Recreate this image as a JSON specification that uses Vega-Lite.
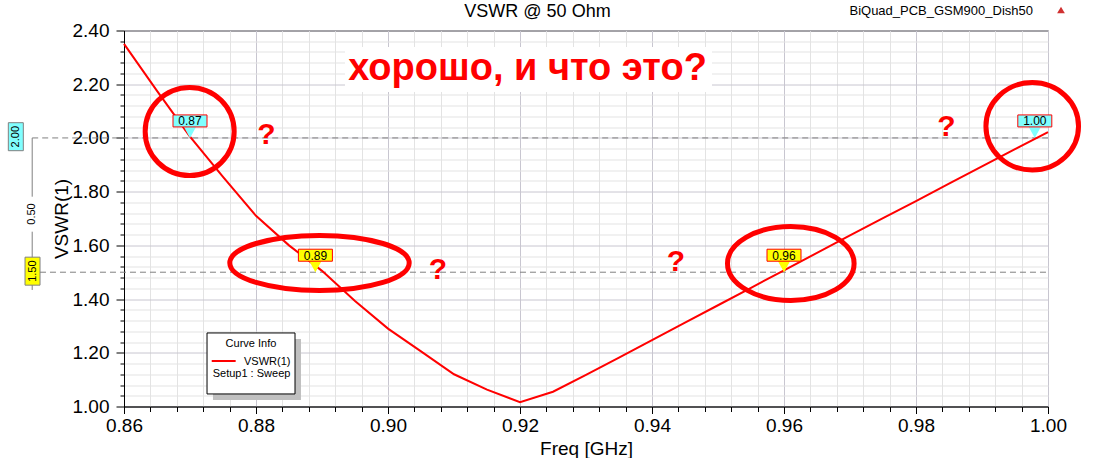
{
  "$schema": "https://vega.github.io/schema/vega-lite/v6.json",
  "width": 924,
  "height": 376,
  "autosize": "none",
  "padding": {"left": 124, "top": 30.5, "right": 54, "bottom": 51.5},
  "background": "#ffffff",
  "config": {
    "font": "Liberation Sans",
    "view": {"stroke": "#000000", "strokeWidth": 1}
  },
  "datasets": {
    "curve": [
      {"freq": 0.860, "vswr": 2.350},
      {"freq": 0.865, "vswr": 2.175},
      {"freq": 0.870, "vswr": 2.005},
      {"freq": 0.875, "vswr": 1.855},
      {"freq": 0.880, "vswr": 1.710},
      {"freq": 0.885, "vswr": 1.600},
      {"freq": 0.890, "vswr": 1.505},
      {"freq": 0.895, "vswr": 1.393},
      {"freq": 0.900, "vswr": 1.290},
      {"freq": 0.905, "vswr": 1.205},
      {"freq": 0.910, "vswr": 1.120},
      {"freq": 0.915, "vswr": 1.063},
      {"freq": 0.920, "vswr": 1.016},
      {"freq": 0.925, "vswr": 1.055},
      {"freq": 0.930, "vswr": 1.118},
      {"freq": 0.935, "vswr": 1.182},
      {"freq": 0.940, "vswr": 1.247},
      {"freq": 0.945, "vswr": 1.312},
      {"freq": 0.950, "vswr": 1.377},
      {"freq": 0.955, "vswr": 1.442},
      {"freq": 0.960, "vswr": 1.507},
      {"freq": 0.965, "vswr": 1.572},
      {"freq": 0.970, "vswr": 1.637},
      {"freq": 0.975, "vswr": 1.701},
      {"freq": 0.980, "vswr": 1.765},
      {"freq": 0.985, "vswr": 1.830},
      {"freq": 0.990, "vswr": 1.894},
      {"freq": 0.995, "vswr": 1.958},
      {"freq": 1.000, "vswr": 2.022}
    ],
    "markers": [
      {"freq": 0.870, "vswr": 2.0, "label": "0.87", "kind": "cyan"},
      {"freq": 0.889, "vswr": 1.5, "label": "0.89", "kind": "yellow"},
      {"freq": 0.960, "vswr": 1.5, "label": "0.96", "kind": "yellow"},
      {"freq": 0.998, "vswr": 2.0, "label": "1.00", "kind": "cyan"}
    ],
    "refs": [
      {"freq": 0.84609, "freq2": 1.0, "vswr": 2.0},
      {"freq": 0.84727, "freq2": 1.0, "vswr": 1.5}
    ],
    "deltaLine": [
      {"freq": 0.84609, "vswr": 2.0, "vswr2": 1.7812},
      {"freq": 0.84609, "vswr": 1.6509, "vswr2": 1.434}
    ],
    "deltaText": [
      {"freq": 0.84609, "vswr": 1.7168, "label": "0.50"}
    ],
    "yMarkers": [
      {"freq": 0.84361, "vswr": 2.0046, "label": "2.00", "kind": "cyan"},
      {"freq": 0.84614, "vswr": 1.5039, "label": "1.50", "kind": "yellow"}
    ],
    "rings": [
      {"id": "a", "freq": 0.86995, "vswr": 2.0240},
      {"id": "b", "freq": 0.88962, "vswr": 1.5344},
      {"id": "c", "freq": 0.96103, "vswr": 1.5325},
      {"id": "d", "freq": 0.99761, "vswr": 2.0433}
    ],
    "questions": [
      {"freq": 0.88159, "vswr": 1.9763, "label": "?"},
      {"freq": 0.90758, "vswr": 1.4737, "label": "?"},
      {"freq": 0.94364, "vswr": 1.5046, "label": "?"},
      {"freq": 0.98462, "vswr": 2.0072, "label": "?"}
    ],
    "bigTextBox": [
      {"freq": 0.89348, "freq2": 0.94909, "vswr": 2.3386, "vswr2": 2.1710}
    ],
    "bigText": [
      {"freq": 0.92114, "vswr": 2.2157, "label": "хорошо, и что это?"}
    ],
    "legendShadow": [
      {"freq": 0.87348, "freq2": 0.88682, "vswr": 1.2514, "vswr2": 1.0243}
    ],
    "legendBox": [
      {"freq": 0.87258, "freq2": 0.88591, "vswr": 1.2738, "vswr2": 1.0467}
    ],
    "legendLine": [
      {"freq": 0.87329, "freq2": 0.87692, "vswr": 1.1695}
    ],
    "legendTitle": [
      {"freq": 0.87924, "vswr": 1.2206, "label": "Curve Info"}
    ],
    "legendLabels": [
      {"freq": 0.87818, "vswr": 1.1547, "label": "VSWR(1)"},
      {"freq": 0.87344, "vswr": 1.1111, "label": "Setup1 : Sweep"}
    ],
    "chartTitle": [
      {"freq": 0.92265, "vswr": 2.4503, "label": "VSWR @ 50 Ohm"}
    ],
    "projectName": [
      {"freq": 0.99773, "vswr": 2.4577, "label": "BiQuad_PCB_GSM900_Dish50"}
    ],
    "icon": [
      {"freq": 1.00197, "vswr": 2.4763}
    ]
  },
  "encoding": {
    "x": {
      "field": "freq",
      "type": "quantitative",
      "scale": {"domain": [0.86, 1.0], "nice": false, "zero": false},
      "axis": {
        "orient": "bottom",
        "values": [0.86,0.864,0.868,0.872,0.876,0.88,0.884,0.888,0.892,0.896,0.9,0.904,0.908,0.912,0.916,0.92,0.924,0.928,0.932,0.936,0.94,0.944,0.948,0.952,0.956,0.96,0.964,0.968,0.972,0.976,0.98,0.984,0.988,0.992,0.996,1],
        "grid": true,
        "gridColor": {"condition": {"test": "abs(datum.value*50 - round(datum.value*50)) < 0.01", "value": "#c8c6d0"}, "value": "#e3e3e3"},
        "gridWidth": 1,
        "domainColor": "#000000",
        "tickColor": "#000000",
        "tickSize": {"condition": {"test": "abs(datum.value*50 - round(datum.value*50)) < 0.01", "value": 7}, "value": 5},
        "labelExpr": "abs(datum.value*50 - round(datum.value*50)) < 0.01 ? format(datum.value, '.2f') : ''",
        "labelFontSize": 19,
        "labelColor": "#000000",
        "labelPadding": 3,
        "labelFlush": false,
        "labelOverlap": false,
        "title": "Freq [GHz]",
        "titleFontSize": 19,
        "titleFontWeight": "normal",
        "titleColor": "#000000",
        "titlePadding": 4
      }
    },
    "y": {
      "field": "vswr",
      "type": "quantitative",
      "scale": {"domain": [1.0, 2.4], "nice": false, "zero": false},
      "axis": {
        "orient": "left",
        "values": [1,1.04,1.08,1.12,1.16,1.2,1.24,1.28,1.32,1.36,1.4,1.44,1.48,1.52,1.56,1.6,1.64,1.68,1.72,1.76,1.8,1.84,1.88,1.92,1.96,2,2.04,2.08,2.12,2.16,2.2,2.24,2.28,2.32,2.36,2.4],
        "grid": true,
        "gridColor": {"condition": {"test": "abs(datum.value*5 - round(datum.value*5)) < 0.01", "value": "#c8c6d0"}, "value": "#e3e3e3"},
        "gridWidth": 1,
        "domainColor": "#000000",
        "tickColor": "#000000",
        "tickSize": {"condition": {"test": "abs(datum.value*5 - round(datum.value*5)) < 0.01", "value": 8}, "value": 4},
        "labelExpr": "abs(datum.value*5 - round(datum.value*5)) < 0.01 ? format(datum.value, '.2f') : ''",
        "labelFontSize": 19,
        "labelColor": "#000000",
        "labelPadding": 7,
        "labelOverlap": false,
        "title": "VSWR(1)",
        "titleFontSize": 19,
        "titleFontWeight": "normal",
        "titleColor": "#000000",
        "titlePadding": 1
      }
    }
  },
  "layer": [
    {
      "data": {"name": "bigTextBox"},
      "mark": {"type": "rect", "color": "#ffffff"},
      "encoding": {"x2": {"field": "freq2"}, "y2": {"field": "vswr2"}}
    },
    {
      "data": {"name": "refs"},
      "mark": {"type": "rule", "color": "#808080", "strokeWidth": 1, "strokeDash": [6, 4]},
      "encoding": {"x2": {"field": "freq2"}}
    },
    {
      "data": {"name": "deltaLine"},
      "mark": {"type": "rule", "color": "#808080", "strokeWidth": 1},
      "encoding": {"y2": {"field": "vswr2"}}
    },
    {
      "data": {"name": "deltaText"},
      "mark": {"type": "text", "angle": 270, "align": "center", "baseline": "middle", "fontSize": 11, "color": "#000000"},
      "encoding": {"text": {"field": "label"}}
    },
    {
      "data": {"name": "yMarkers"},
      "mark": {"type": "point", "shape": "M-7.5,-14H7.5V14H-7.5Z", "size": 4, "filled": true, "opacity": 1, "stroke": "#808080", "strokeWidth": 1},
      "encoding": {
        "fill": {"field": "kind", "type": "nominal", "scale": {"domain": ["cyan", "yellow"], "range": ["#80ffff", "#ffff00"]}, "legend": null}
      }
    },
    {
      "data": {"name": "yMarkers"},
      "mark": {"type": "text", "angle": 270, "align": "center", "baseline": "middle", "fontSize": 11, "color": "#000000"},
      "encoding": {"text": {"field": "label"}}
    },
    {
      "data": {"name": "legendShadow"},
      "mark": {"type": "rect", "color": "#c0c0c0"},
      "encoding": {"x2": {"field": "freq2"}, "y2": {"field": "vswr2"}}
    },
    {
      "data": {"name": "legendBox"},
      "mark": {"type": "rect", "fill": "#ffffff", "stroke": "#000000", "strokeWidth": 1},
      "encoding": {"x2": {"field": "freq2"}, "y2": {"field": "vswr2"}}
    },
    {
      "data": {"name": "legendLine"},
      "mark": {"type": "rule", "color": "#ff0000", "strokeWidth": 2},
      "encoding": {"x2": {"field": "freq2"}}
    },
    {
      "data": {"name": "legendTitle"},
      "mark": {"type": "text", "align": "center", "baseline": "alphabetic", "fontSize": 11, "color": "#000000"},
      "encoding": {"text": {"field": "label"}}
    },
    {
      "data": {"name": "legendLabels"},
      "mark": {"type": "text", "align": "left", "baseline": "alphabetic", "fontSize": 11, "color": "#000000"},
      "encoding": {"text": {"field": "label"}}
    },
    {
      "data": {"name": "curve"},
      "mark": {"type": "line", "color": "#ff0000", "strokeWidth": 2}
    },
    {
      "data": {"name": "markers"},
      "mark": {"type": "point", "shape": "M-17,-23H17V-11H6L0,0L-6,-11H-17Z", "size": 4, "filled": true, "opacity": 1, "strokeWidth": 0},
      "encoding": {
        "fill": {"field": "kind", "type": "nominal", "scale": {"domain": ["cyan", "yellow"], "range": ["#80ffff", "#ffff00"]}, "legend": null}
      }
    },
    {
      "data": {"name": "markers"},
      "mark": {"type": "point", "shape": "M-17,-23H17V-11H-17Z", "size": 4, "filled": false, "opacity": 1, "stroke": "#ff0000", "strokeWidth": 1}
    },
    {
      "data": {"name": "markers"},
      "mark": {"type": "text", "align": "center", "baseline": "alphabetic", "dy": -12.5, "fontSize": 12, "color": "#000000"},
      "encoding": {"text": {"field": "label"}}
    },
    {
      "data": {"name": "rings"},
      "transform": [{"filter": "datum.id == 'a'"}],
      "mark": {"type": "point", "shape": "M-1,0A1,0.99,0,1,0,1,0A1,0.99,0,1,0,-1,0Z", "size": 7921, "filled": false, "opacity": 1, "stroke": "#ff0000", "strokeWidth": 5}
    },
    {
      "data": {"name": "rings"},
      "transform": [{"filter": "datum.id == 'b'"}],
      "mark": {"type": "point", "shape": "M-1,0A1,0.307,0,1,0,1,0A1,0.307,0,1,0,-1,0Z", "size": 32184, "filled": false, "opacity": 1, "stroke": "#ff0000", "strokeWidth": 5}
    },
    {
      "data": {"name": "rings"},
      "transform": [{"filter": "datum.id == 'c'"}],
      "mark": {"type": "point", "shape": "M-1,0A1,0.585,0,1,0,1,0A1,0.585,0,1,0,-1,0Z", "size": 16028, "filled": false, "opacity": 1, "stroke": "#ff0000", "strokeWidth": 5}
    },
    {
      "data": {"name": "rings"},
      "transform": [{"filter": "datum.id == 'd'"}],
      "mark": {"type": "point", "shape": "M-1,0A1,0.946,0,1,0,1,0A1,0.946,0,1,0,-1,0Z", "size": 8575, "filled": false, "opacity": 1, "stroke": "#ff0000", "strokeWidth": 5}
    },
    {
      "data": {"name": "questions"},
      "mark": {"type": "text", "align": "center", "baseline": "alphabetic", "fontSize": 30, "fontWeight": "bold", "color": "#ff0000"},
      "encoding": {"text": {"field": "label"}}
    },
    {
      "data": {"name": "bigText"},
      "mark": {"type": "text", "align": "center", "baseline": "alphabetic", "fontSize": 38, "fontWeight": "bold", "color": "#ff0000"},
      "encoding": {"text": {"field": "label"}}
    },
    {
      "data": {"name": "chartTitle"},
      "mark": {"type": "text", "align": "center", "baseline": "alphabetic", "fontSize": 18, "color": "#000000"},
      "encoding": {"text": {"field": "label"}}
    },
    {
      "data": {"name": "projectName"},
      "mark": {"type": "text", "align": "right", "baseline": "alphabetic", "fontSize": 13, "color": "#000000"},
      "encoding": {"text": {"field": "label"}}
    },
    {
      "data": {"name": "icon"},
      "mark": {"type": "point", "shape": "triangle-up", "size": 60, "filled": true, "opacity": 1, "color": "#d03030"}
    }
  ]
}
